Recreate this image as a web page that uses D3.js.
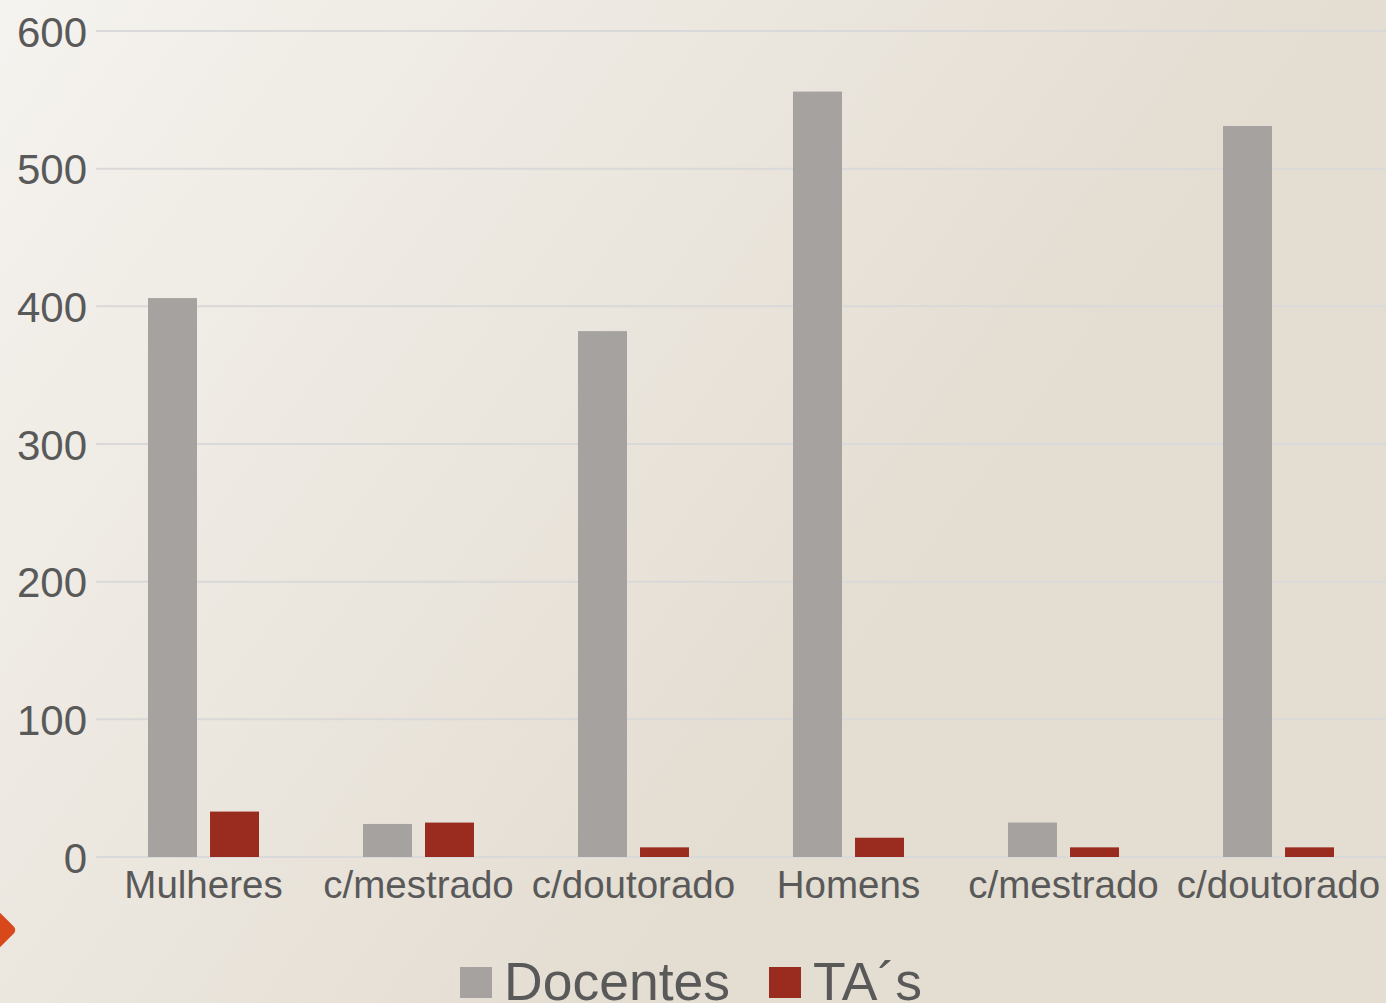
<!DOCTYPE html>
<html>
<head>
    <meta charset="utf-8">
    <title>Docentes e TA's</title>
    <script src="https://cdnjs.cloudflare.com/ajax/libs/d3/7.8.5/d3.min.js"></script>
    <style>
        body, html {
            margin: 0;
            padding: 0;
            width: 100%;
            height: 100%;
            overflow: hidden;
            font-family: "Liberation Sans", Arial, sans-serif;
        }
    </style>
</head>
<body>
<div id="chart"></div>
<script>
    var categories = ['Mulheres', 'c/mestrado', 'c/doutorado', 'Homens', 'c/mestrado', 'c/doutorado'];
    var seriesNames = ['Docentes', 'TA\u00B4s'];
    var docentes = [406, 24, 382, 556, 25, 531];
    var tas = [33, 25, 7, 14, 7, 7];
    var yTicks = [0, 100, 200, 300, 400, 500, 600];
    var colors = ['#a5a2a0', '#9a2b1f'];

    var W = 1386, H = 1003;
    var svg = d3.select('#chart').append('svg')
        .attr('width', W)
        .attr('height', H);

    // background
    var grad = svg.append('defs').append('linearGradient')
        .attr('id', 'bg')
        .attr('x1', '0').attr('y1', '0')
        .attr('x2', '0.75').attr('y2', '0.4');
    grad.append('stop').attr('offset', '0').attr('stop-color', '#f5f3ef');
    grad.append('stop').attr('offset', '1').attr('stop-color', '#e4ddd2');
    svg.append('rect').attr('width', W).attr('height', H).attr('fill', 'url(#bg)');

    // orange marker at the left edge
    svg.append('rect')
        .attr('x', -20).attr('y', -20)
        .attr('width', 40).attr('height', 40)
        .attr('rx', 5)
        .attr('fill', '#d9481a')
        .attr('transform', 'translate(-11,930) rotate(45)');

    var pLeft = 96, pRight = 1386, pTop = 31, pBottom = 857;

    var y = d3.scaleLinear().domain([0, 600]).range([pBottom, pTop]);
    var x0 = d3.scaleBand().domain(d3.range(categories.length)).range([pLeft, pRight]).paddingInner(0).paddingOuter(0);
    var x1 = d3.scaleBand().domain([0, 1]).range([52, 215 - 52]).paddingInner(0.21);

    // gridlines
    svg.append('g').selectAll('line')
        .data(yTicks)
        .enter().append('line')
        .attr('x1', pLeft).attr('x2', pRight)
        .attr('y1', function (d) { return y(d); })
        .attr('y2', function (d) { return y(d); })
        .attr('stroke', '#d9d9d9')
        .attr('stroke-width', 2);

    // y axis labels
    var yAxis = d3.axisLeft(y).tickValues(yTicks).tickSize(0).tickPadding(0);
    var ya = svg.append('g')
        .attr('transform', 'translate(87,0)')
        .call(yAxis);
    ya.select('.domain').remove();
    ya.selectAll('text')
        .attr('fill', '#595959')
        .attr('font-size', 42)
        .attr('font-family', '"Liberation Sans", Arial, sans-serif')
        .attr('dy', '0.36em');

    // bars
    var data = categories.map(function (c, i) { return [docentes[i], tas[i]]; });
    var groups = svg.append('g').selectAll('g')
        .data(data)
        .enter().append('g')
        .attr('transform', function (d, i) { return 'translate(' + x0(i) + ',0)'; });
    groups.selectAll('rect')
        .data(function (d) { return d; })
        .enter().append('rect')
        .attr('x', function (d, j) { return x1(j); })
        .attr('width', x1.bandwidth())
        .attr('y', function (d) { return y(d); })
        .attr('height', function (d) { return pBottom - y(d); })
        .attr('fill', function (d, j) { return colors[j]; });

    // category labels
    var xAxis = d3.axisBottom(x0).tickSize(0).tickPadding(0)
        .tickFormat(function (i) { return categories[i]; });
    var xa = svg.append('g')
        .attr('transform', 'translate(0,' + pBottom + ')')
        .call(xAxis);
    xa.select('.domain').remove();
    xa.selectAll('text')
        .attr('fill', '#595959')
        .attr('font-size', 38.5)
        .attr('font-family', '"Liberation Sans", Arial, sans-serif')
        .attr('dy', '0')
        .attr('y', 41);

    // legend
    var legend = svg.append('g');
    var legX = [460, 769];
    seriesNames.forEach(function (name, i) {
        legend.append('rect')
            .attr('x', legX[i]).attr('y', 967)
            .attr('width', 32).attr('height', 31)
            .attr('fill', colors[i]);
        legend.append('text')
            .attr('x', legX[i] + 44).attr('y', 1000)
            .attr('fill', '#595959')
            .attr('font-size', 53.5)
            .text(name);
    });
</script>
</body>
</html>
